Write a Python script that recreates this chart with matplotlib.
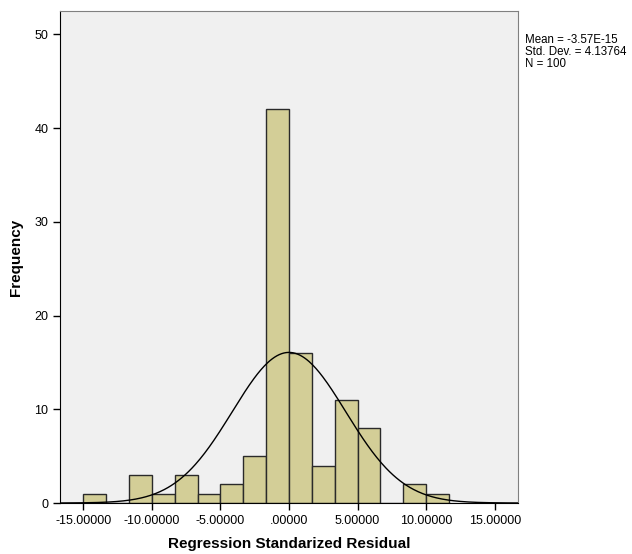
import numpy as np
import matplotlib.pyplot as plt

# bins of width 5/3 starting at -15
bin_edges = [-15 + i * 5 / 3 for i in range(17)]
counts = [1, 0, 3, 1, 3, 1, 2, 5, 42, 16, 4, 11, 8, 0, 2, 1]

mean = -3.57e-15
std = 4.13764
n = 100

x_ticks = [-15, -10, -5, 0, 5, 10, 15]
x_tick_labels = ["-15.00000", "-10.00000", "-5.00000", ".00000", "5.00000", "10.00000", "15.00000"]
y_ticks = [0, 10, 20, 30, 40, 50]

plt.rcParams['font.family'] = ['Liberation Sans', 'DejaVu Sans']

fig = plt.figure(figsize=(6.32, 5.54), dpi=100)
ax = fig.add_axes([60 / 632, 51 / 554, 458 / 632, 492 / 554])
ax.set_facecolor('#f0f0f0')

widths = np.diff(bin_edges)
ax.bar(bin_edges[:-1], counts, width=widths, align='edge',
       color='#d3ce97', edgecolor='#2a2a2a', linewidth=1.0, zorder=2)

# normal curve scaled to counts
xs = np.linspace(-16.7, 16.7, 400)
bw = 5 / 3
ys = n * bw / (std * np.sqrt(2 * np.pi)) * np.exp(-0.5 * ((xs - mean) / std) ** 2)
ax.plot(xs, ys, color='black', linewidth=1.0, zorder=3)

ax.set_xlim(-16.7, 16.7)
ax.set_ylim(0, 52.5)
ax.set_xticks(x_ticks)
ax.set_xticklabels(x_tick_labels)
ax.set_yticks(y_ticks)
ax.tick_params(direction='out', length=5, width=1, labelsize=9, colors='black')

for s in ['left', 'bottom']:
    ax.spines[s].set_color('black')
for s in ['top', 'right']:
    ax.spines[s].set_color('#808080')

ax.set_xlabel('Regression Standarized Residual', fontsize=11, fontweight='bold', labelpad=7)
ax.set_ylabel('Frequency', fontsize=11, fontweight='bold', labelpad=8)

fig.text(525 / 632, 1 - 34 / 554, 'Mean = -3.57E-15\nStd. Dev. = 4.13764\nN = 100',
         fontsize=8.3, va='top', ha='left', linespacing=1.0)

fig.savefig('out.png', dpi=100, facecolor='white')
